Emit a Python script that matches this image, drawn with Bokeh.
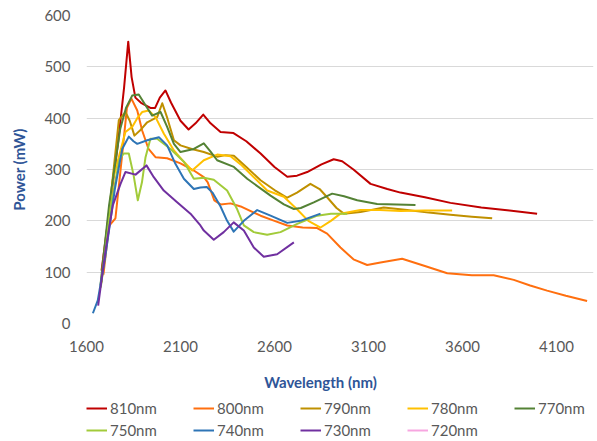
from bokeh.plotting import figure
from bokeh.models import Range1d, FixedTicker, Legend, Label
from bokeh.layouts import column
from bokeh.embed import file_html
from bokeh.resources import INLINE

# ---------------- data ----------------
x_ticks = [1600, 2100, 2600, 3100, 3600, 4100]
y_ticks = [0, 100, 200, 300, 400, 500, 600]

series_names = ["810nm", "800nm", "790nm", "780nm", "770nm",
                "750nm", "740nm", "730nm", "720nm"]
series_colors = ["#C00000", "#FF6F0F", "#BF9000", "#FFC000", "#548235",
                 "#A2CB3A", "#2E75B6", "#7030A0", "#F7A6E0"]

wl_810 = [1680, 1725, 1769, 1800, 1822, 1840, 1860, 1890, 1940, 1965, 1990, 2020, 2050,
          2100, 2143, 2180, 2221, 2260, 2313, 2382, 2450, 2526, 2600, 2668, 2720, 2774,
          2850, 2915, 2960, 3020, 3111, 3200, 3270, 3400, 3536, 3700, 3850, 3997]
pw_810 = [103, 230, 356, 460, 549, 480, 440, 430, 420, 420, 440, 454, 430,
          395, 378, 390, 407, 390, 373, 371, 355, 331, 305, 286, 288, 295,
          310, 320, 316, 300, 272, 262, 255, 246, 235, 226, 220, 214]

wl_800 = [1690, 1720, 1754, 1790, 1815, 1839, 1870, 1896, 1930, 1967, 2029, 2100, 2171,
          2224, 2245, 2280, 2313, 2366, 2420, 2526, 2600, 2668, 2750, 2827, 2880, 2951,
          3020, 3093, 3164, 3279, 3400, 3519, 3650, 3766, 3873, 3960, 4050, 4150, 4263]
pw_800 = [95, 190, 205, 330, 420, 438, 415, 376, 340, 324, 322, 312, 298,
          285, 275, 240, 232, 234, 228, 210, 200, 191, 187, 186, 175, 148,
          125, 114, 119, 126, 112, 98, 94, 94, 85, 74, 64, 54, 44]

wl_790 = [1680, 1730, 1772, 1807, 1830, 1855, 1890, 1923, 1976, 2003, 2030, 2065, 2100,
          2160, 2224, 2295, 2340, 2384, 2450, 2526, 2600, 2668, 2720, 2791, 2840, 2880,
          2930, 2969, 3057, 3181, 3306, 3420, 3536, 3650, 3758]
pw_790 = [80, 250, 396, 412, 395, 366, 378, 392, 402, 429, 400, 357, 347,
          340, 334, 325, 328, 327, 305, 279, 260, 245, 255, 272, 262, 246,
          225, 214, 217, 226, 221, 216, 212, 208, 205]

wl_780 = [1680, 1740, 1807, 1843, 1870, 1896, 1931, 1967, 2011, 2065, 2118, 2162, 2224,
          2295, 2366, 2420, 2490, 2561, 2650, 2721, 2780, 2845, 2900, 2951, 3057, 3160,
          3270, 3400, 3545]
pw_780 = [90, 280, 373, 383, 400, 412, 415, 402, 370, 337, 315, 298, 318,
          329, 326, 310, 285, 259, 247, 222, 200, 187, 200, 214, 221, 221,
          219, 220, 220]

wl_770 = [1674, 1720, 1780, 1810, 1843, 1878, 1914, 1949, 1994, 2029, 2065, 2100, 2171,
          2224, 2260, 2295, 2384, 2455, 2579, 2650, 2703, 2740, 2809, 2907, 2970, 3040,
          3146, 3250, 3350]
pw_770 = [74, 230, 380, 420, 444, 446, 425, 405, 412, 383, 350, 334, 340,
          351, 335, 318, 305, 282, 249, 232, 223, 225, 236, 253, 248, 240,
          233, 232, 231]

wl_750 = [1676, 1730, 1775, 1798, 1825, 1850, 1873, 1895, 1914, 1940, 1976, 2047, 2118,
          2171, 2224, 2277, 2348, 2401, 2437, 2490, 2561, 2632, 2721, 2827, 2900, 2987]
pw_750 = [70, 230, 320, 331, 331, 290, 240, 275, 324, 360, 360, 340, 315,
          282, 284, 280, 259, 223, 191, 178, 173, 178, 194, 210, 214, 214]

wl_740 = [1634, 1660, 1700, 1750, 1790, 1825, 1850, 1870, 1923, 1985, 2029, 2073, 2118,
          2171, 2206, 2240, 2270, 2313, 2348, 2383, 2437, 2508, 2579, 2668, 2738, 2845]
pw_740 = [20, 45, 130, 260, 340, 364, 355, 350, 357, 363, 347, 311, 282,
          262, 265, 266, 255, 228, 200, 179, 200, 221, 210, 196, 200, 214]

wl_730 = [1662, 1701, 1740, 1781, 1807, 1861, 1919, 1958, 2011, 2082, 2153, 2206, 2224,
          2277, 2330, 2383, 2437, 2490, 2543, 2614, 2703]
pw_730 = [35, 142, 230, 272, 295, 290, 308, 285, 259, 236, 214, 191, 181,
          163, 178, 197, 181, 148, 130, 135, 158]

# 720nm: not visible in the chart (hidden under the other curves at the start)
wl_720 = [1660]
pw_720 = [30]

wavelengths = [wl_810, wl_800, wl_790, wl_780, wl_770, wl_750, wl_740, wl_730, wl_720]
powers = [pw_810, pw_800, pw_790, pw_780, pw_770, pw_750, pw_740, pw_730, pw_720]

# ---------------- main chart ----------------
FONT = "Lato"
TICK_COLOR = "#595959"
TITLE_COLOR = "#2F5597"

H1 = 358
p = figure(width=597, height=H1, output_backend="svg", toolbar_location=None,
           x_range=Range1d(1600, 4297), y_range=Range1d(0, 600),
           min_border_left=86, min_border_right=4, min_border_top=15,
           min_border_bottom=35)
p.outline_line_color = None
p.background_fill_color = "white"
p.border_fill_color = "white"

p.xaxis.ticker = FixedTicker(ticks=x_ticks)
p.yaxis.ticker = FixedTicker(ticks=y_ticks)
for ax in (p.xaxis, p.yaxis):
    ax.axis_line_color = None
    ax.major_tick_line_color = None
    ax.minor_tick_line_color = None
    ax.major_tick_out = 0
    ax.major_tick_in = 0
    ax.minor_tick_out = 0
    ax.major_label_text_font = FONT
    ax.major_label_text_font_size = "15px"
    ax.major_label_text_color = TICK_COLOR
p.xaxis.major_label_standoff = 17
p.yaxis.major_label_standoff = 16

p.yaxis.axis_label = "Power (mW)"
p.yaxis.axis_label_standoff = 13
p.yaxis.axis_label_text_font = FONT
p.yaxis.axis_label_text_font_size = "15px"
p.yaxis.axis_label_text_font_style = "bold"
p.yaxis.axis_label_text_color = TITLE_COLOR

p.xgrid.grid_line_color = None
p.ygrid.grid_line_color = "#D9D9D9"
p.ygrid.grid_line_width = 1

for name, color, wl, pw in zip(series_names, series_colors, wavelengths, powers):
    p.line(wl, pw, line_color=color, line_width=2, line_join="round")

# ---------------- strip below: x-axis title and legend ----------------
# (its frame is aligned with the main chart's frame: 507 px wide, starting at x=86)
H2 = 441 - H1
p2 = figure(width=597, height=H2, output_backend="svg", toolbar_location=None,
            x_range=Range1d(0, 507), y_range=Range1d(0, H2),
            x_axis_location=None, y_axis_location=None,
            min_border=0, min_border_left=0, min_border_right=0,
            min_border_top=0, min_border_bottom=0)
p2.outline_line_color = None
p2.xgrid.visible = False
p2.ygrid.visible = False
p2.background_fill_color = "white"
p2.border_fill_color = "white"

items = []
for name, color, wl, pw in zip(series_names, series_colors, wavelengths, powers):
    # same series; they fall outside this strip's ranges, only their legend entry shows
    r = p2.line(wl, pw, line_color=color, line_width=2, line_join="round")
    items.append((name, [r]))

legend = Legend(items=items, orientation="horizontal", ncols=5,
                location=(0, 0), padding=0, margin=0, spacing=0,
                glyph_width=21, glyph_height=22, label_standoff=3,
                label_width=83, label_height=22,
                label_text_font=FONT, label_text_font_size="15px",
                label_text_color=TICK_COLOR, border_line_color=None,
                background_fill_alpha=0)
p2.add_layout(legend)

xtitle = Label(x=234, y=H2 - 23, text="Wavelength (nm)",
               text_align="center", text_baseline="middle",
               text_font=FONT, text_font_size="15px", text_font_style="bold",
               text_color=TITLE_COLOR)
p2.add_layout(xtitle)

layout = column(p, p2, spacing=0)
open("out.html", "w").write(file_html(layout, INLINE))
